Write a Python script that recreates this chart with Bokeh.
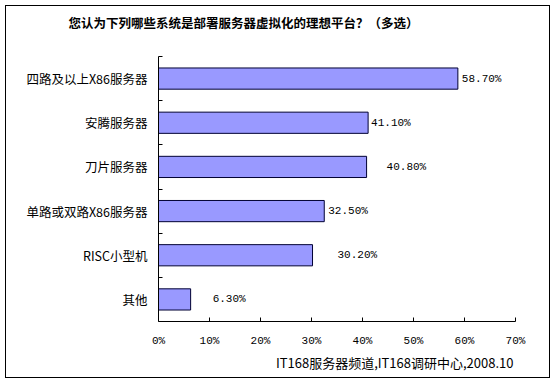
from bokeh.plotting import figure
from bokeh.models import (ColumnDataSource, FixedTicker, LabelSet, Title,
                          InlineStyleSheet)
from bokeh.embed import file_html
from bokeh.resources import INLINE
from bokeh.core.properties import value

# ---- data ----
title_text = "您认为下列哪些系统是部署服务器虚拟化的理想平台？（多选）"
categories = ["四路及以上X86服务器", "安腾服务器", "刀片服务器",
              "单路或双路X86服务器", "RISC小型机", "其他"]
values = [58.7, 41.1, 40.8, 32.5, 30.2, 6.3]
value_labels = ["58.70%", "41.10%", "40.80%", "32.50%", "30.20%", "6.30%"]
x_ticks = [0, 10, 20, 30, 40, 50, 60, 70]
x_tick_labels = ["0%", "10%", "20%", "30%", "40%", "50%", "60%", "70%"]
source_text = "IT168服务器频道,IT168调研中心,2008.10"

# ---- styling (label offsets in px) ----
label_offsets = [4, 3, 20, 4, 25, 22]

n = len(categories)
ypos = [n - 0.5 - i for i in range(n)]

src = ColumnDataSource(dict(y=ypos, v=values, lab=value_labels, off=label_offsets))

W, H = 554, 385
p = figure(width=W, height=H, output_backend="svg", toolbar_location=None,
           x_range=(0, 70), y_range=(0, n),
           min_border_left=158, min_border_right=39,
           min_border_top=56, min_border_bottom=64)
p.frame_width = 357
p.frame_height = 265
p.outline_line_color = None
p.background_fill_color = "white"
p.border_fill_color = "white"
p.xgrid.visible = False
p.ygrid.visible = False
border_css = """
:host { position: relative; }
:host::after {
  content: ""; position: absolute; left: 5px; top: 5px;
  width: 545px; height: 373px; box-sizing: border-box;
  border: 1px solid black; pointer-events: none; z-index: 1000;
}
"""
p.stylesheets = [InlineStyleSheet(css=border_css)]

p.hbar(y="y", right="v", left=0, height=0.48, source=src,
       fill_color="#9999FF", line_color="#000033", line_width=1)

ls = LabelSet(x="v", y="y", text="lab", x_offset="off", source=src,
              text_baseline="middle", text_align="left",
              text_font=value("Liberation Mono"), text_font_size="11px",
              text_color="black")
p.add_layout(ls)

# x axis
xa = p.xaxis[0]
xa.ticker = FixedTicker(ticks=x_ticks)
xa.major_label_overrides = {t: l for t, l in zip(x_ticks, x_tick_labels)}
xa.major_tick_in = 4
xa.major_tick_out = 0
xa.minor_tick_in = 0
xa.minor_tick_out = 0
xa.major_label_standoff = 13
xa.major_label_text_font = "Liberation Mono"
xa.major_label_text_font_size = "11px"
xa.major_label_text_color = "black"
xa.axis_line_color = "black"
xa.major_tick_line_color = "black"

# y axis
ya = p.yaxis[0]
ya.ticker = FixedTicker(ticks=ypos, minor_ticks=[1, 2, 3, 4, 5, 6])
ya.major_label_overrides = {y: c for y, c in zip(ypos, categories)}
ya.major_tick_in = 0
ya.major_tick_out = 0
ya.minor_tick_in = 4
ya.minor_tick_out = 0
ya.minor_tick_line_color = "black"
ya.major_label_standoff = 11
ya.major_label_text_font = "Noto Sans CJK SC"
ya.major_label_text_font_size = "12.5px"
ya.major_label_text_color = "black"
ya.axis_line_color = "black"

# spacer between title and plot area
p.add_layout(Title(text=" ", standoff=2, text_font="Noto Sans CJK SC",
                   text_font_size="12.5px", text_font_style="bold"), "above")

# title
p.title = Title(text=title_text, align="left", offset=-90, standoff=0,
                vertical_align="top",
                text_font="Noto Sans CJK SC", text_font_size="12.5px",
                text_font_style="bold", text_color="black")

# source note
p.add_layout(Title(text=source_text, align="right", offset=2, standoff=2,
                   text_font="Noto Sans CJK SC", text_font_size="13px",
                   text_font_style="normal", text_color="black"), "below")

open("out.html", "w").write(file_html(p, INLINE))
